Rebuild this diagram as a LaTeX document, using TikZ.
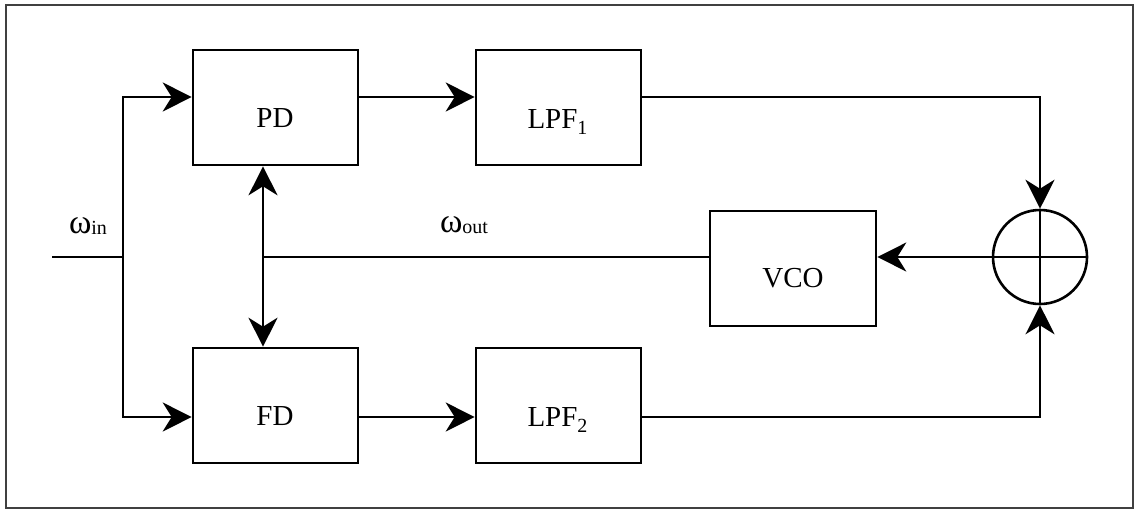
\documentclass[tikz,border=0pt]{standalone}
\usepackage{fontspec}
\setmainfont{Liberation Serif}
\usetikzlibrary{arrows.meta,calc}

\newcommand{\boxfont}{\fontsize{29}{34}\selectfont}
\newcommand{\subfont}{\fontsize{20}{22}\selectfont}
\newcommand{\omegafont}{\fontsize{34}{38}\selectfont}
\newcommand{\lowsub}[1]{\raisebox{-6pt}{\subfont #1}}

\tikzset{
  blk/.style={draw, line width=2.6pt, inner sep=0pt, minimum width=165pt, minimum height=115pt},
  boxtext/.style={font=\boxfont, text height=19pt, text depth=0pt, inner sep=0pt},
  wire/.style={line width=2pt},
  arr/.style={wire, -{Stealth[length=29pt, width=29pt, inset=9pt]}},
  dblarr/.style={wire, {Stealth[length=29pt, width=29pt, inset=9pt]}-{Stealth[length=29pt, width=29pt, inset=9pt]}},
  sumnode/.style={draw, circle, line width=2.6pt, minimum size=94pt, inner sep=0pt},
}

\begin{document}
\begin{tikzpicture}[x=1pt, y=-1pt]
  \useasboundingbox (0,0) rectangle (1134,509);
  % outer frame
  \draw[line width=2pt, black!75] (6,5) rectangle (1133,508);

  % signal rows
  \coordinate (rowA) at (0,97);
  \coordinate (rowB) at (0,417);

  % blocks
  \node[blk] (PD)   at (275.5,107.5) {};
  \node[blk] (LPF1) at (558.5,107.5) {};
  \node[blk] (FD)   at (275.5,405.5) {};
  \node[blk] (LPF2) at (558.5,405.5) {};
  \node[blk, minimum width=166pt] (VCO) at (793,268.5) {};
  \node[sumnode] (sum) at (1040,257) {};

  % block texts
  \node[boxtext] (tPD)   at (275,118) {PD};
  \node[boxtext] (tFD)   at (275,416) {FD};
  \node[boxtext] (tLPF1) at (557.5,119) {LPF\lowsub{1}};
  \node[boxtext] (tLPF2) at (557.5,417) {LPF\lowsub{2}};
  \node[boxtext] (tVCO)  at (793,277.5) {VCO};

  % summing junction cross
  \draw[line width=2.6pt] (sum.north) -- (sum.south);
  \draw[line width=2.6pt] (sum.west) -- (sum.east);

  % signal labels
  \node[anchor=base, inner sep=0pt] (win)  at (88,233) {\omegafont ω\raisebox{-1pt}{\subfont in}};
  \node[anchor=base, inner sep=0pt] (wout) at (464,232) {\omegafont ω\raisebox{-1pt}{\subfont out}};

  % input branch
  \coordinate (in) at (52,257);
  \coordinate (j1) at (123,257);
  \draw[wire] (in) -- (j1);
  \draw[arr] (j1) |- (PD.west |- rowA);
  \draw[arr] (j1) |- (FD.west |- rowB);

  % detectors to filters
  \draw[arr] (PD.east |- rowA) -- (LPF1.west |- rowA);
  \draw[arr] (FD.east |- rowB) -- (LPF2.west |- rowB);

  % filters to summing junction
  \draw[arr] (LPF1.east |- rowA) -| (sum.north);
  \draw[arr] (LPF2.east |- rowB) -| (sum.south);

  % summing junction to VCO
  \draw[arr] (sum.west) -- (VCO.east |- sum.west);

  % VCO feedback to the detectors
  \coordinate (j2) at (263,257);
  \draw[wire] (VCO.west |- sum.west) -- (j2);
  \draw[dblarr] (j2 |- PD.south) -- (j2 |- FD.north);
\end{tikzpicture}
\end{document}
